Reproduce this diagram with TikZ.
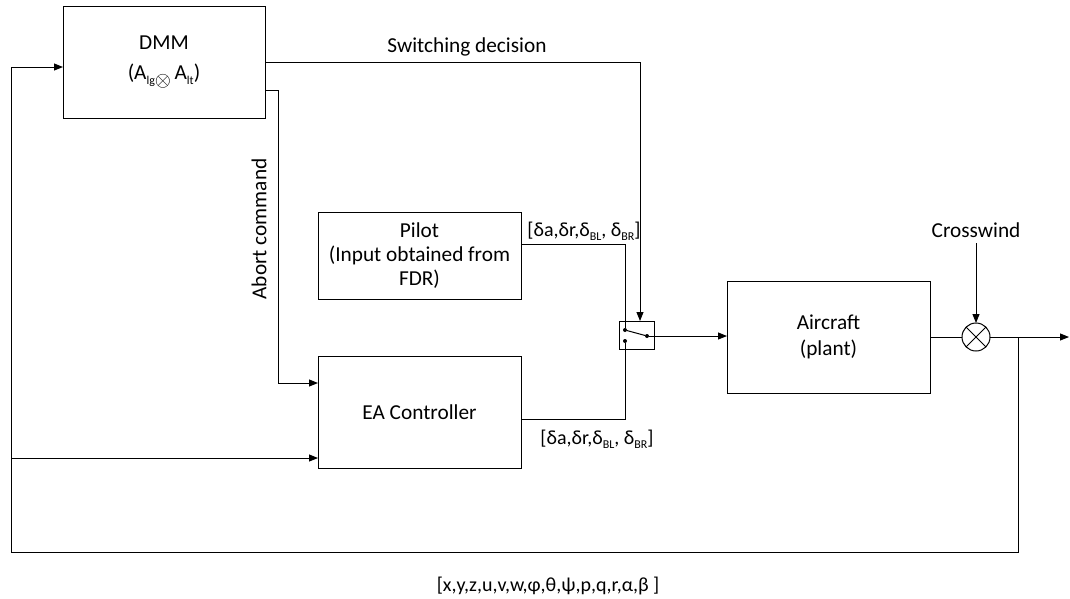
\documentclass[tikz,border=0pt]{standalone}
\usepackage{fontspec}
\setmainfont{Carlito}
\usetikzlibrary{arrows.meta}
\newcommand{\mysb}[1]{\raisebox{-0.22em}{\fontsize{12}{12}\selectfont #1}}
\begin{document}
\begin{tikzpicture}[x=1pt,y=-1pt,
  every node/.style={font=\fontsize{21.3}{26}\selectfont},
  blk/.style={draw, line width=1pt, inner sep=0pt, outer sep=0pt, align=center},
  conn/.style={line width=1pt},
  arr/.style={conn, -{Triangle[length=9pt,width=7pt]}},
  lbl/.style={font=\fontsize{20}{24}\selectfont, inner sep=0pt},
  dot/.style={circle, fill, inner sep=0pt, minimum size=4pt}]
\useasboundingbox (0,0) rectangle (1070,598);

% blocks
\node[blk, minimum width=202pt, minimum height=112pt, font=\fontsize{21.3}{30}\selectfont] (dmm) at (164,62)
  {DMM\\(A\mysb{lg}\raisebox{-0.3em}{$\otimes$}\,A\mysb{lt})};
\node[blk, minimum width=203pt, minimum height=87pt, font=\fontsize{21.3}{24}\selectfont] (pilot) at (419.5,255.5)
  {Pilot\\(Input obtained from\\FDR)};
\node[blk, minimum width=203pt, minimum height=112pt] (ea) at (419.5,412) {EA Controller};
\node[blk, minimum width=203pt, minimum height=112pt] (air) at (828.5,337) {Aircraft\\(plant)};
\node[blk, minimum width=35pt, minimum height=28pt] (sw) at (636.5,335) {};
\node[draw, circle, line width=1pt, minimum size=28pt, inner sep=0pt, outer sep=0pt] (sum) at (976,337) {};
\draw[conn] (sum.north west) -- (sum.south east) (sum.north east) -- (sum.south west);

% switch contacts
\node[dot] (swa) at (625,330) {};
\node[dot] (swb) at (625,341) {};
\node[dot] (swc) at (647,336) {};
\draw[conn] (swa) -- (swc);

% texts
\node (swlbl) at (467,47) {Switching decision};
\node[rotate=90] (ablbl) at (259,229) {Abort command};
\node (cwlbl) at (976,230) {Crosswind};
\node[lbl] (plbl) at (584,231) {[δa,δr,δ\mysb{BL}, δ\mysb{BR}]};
\node[lbl] (elbl) at (597,439) {[δa,δr,δ\mysb{BL}, δ\mysb{BR}]};
\node[lbl] (fblbl) at (548,586) {[x,y,z,u,v,w,φ,θ,ψ,p,q,r,α,β ]};

% coordinates
\coordinate (abS) at (265,90);
\coordinate (abE) at (318,383);
\coordinate (swin) at (640,321);
\coordinate (pS) at (521,244);
\coordinate (eS) at (521,419);
\coordinate (cw) at (976,243);
\coordinate (outE) at (1069,337);
\coordinate (br) at (1018,337);
\coordinate (fbD) at (63,67);
\coordinate (fbE) at (318,458);

% connectors
\draw[arr] (dmm.east) -| (swin);
\draw[arr] (abS) -- (278,90) -- (278,383) -- (abE);
\draw[conn] (pS) -| (swa);
\draw[conn] (eS) -| (swb);
\draw[arr] (swc) -- (swc -| air.west);
\draw[conn] (air.east |- sum.west) -- (sum.west);
\draw[arr] (cw) -- (sum.north);
\draw[arr] (sum.east) -- (outE);
\draw[arr] (br) -- (1018,552) -- (11,552) -- (11,67) -- (fbD);
\draw[arr] (11,458) -- (fbE);
\end{tikzpicture}
\end{document}
